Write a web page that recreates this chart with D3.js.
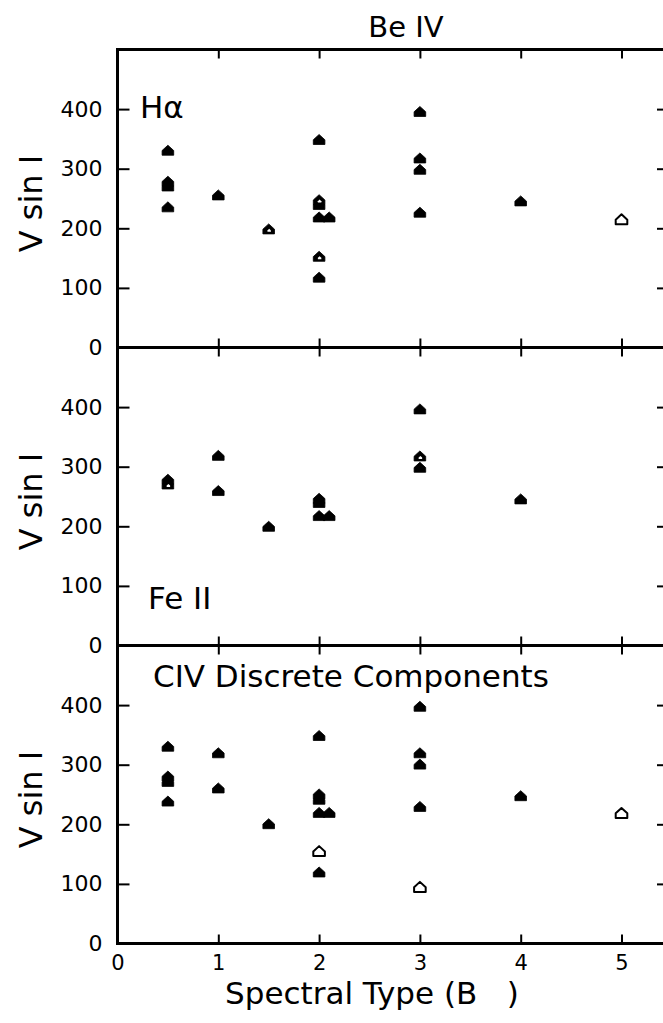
<!DOCTYPE html>
<html>
<head>
<meta charset="utf-8">
<script src="https://cdn.jsdelivr.net/npm/d3@7"></script>
<style>
  html, body { margin: 0; padding: 0; background: #fff; overflow: hidden; }
  svg { display: block; }
  text { font-family: "DejaVu Sans", sans-serif; fill: #000; }
</style>
</head>
<body>
<svg id="chart" width="663" height="1023"></svg>
<script>
// ---- data ----
const xTickValues = [0, 1, 2, 3, 4, 5];
const yTickValues = [0, 100, 200, 300, 400];
const panelNames = ["H\u03B1", "Fe II", "CIV Discrete Components"];
const chartTitle = "Be IV";
const xTitle = "Spectral Type (B\u00A0\u00A0\u00A0)";
const yTitle = "V sin I";

// [spectral subtype, v sin i, marker kind]  f = filled, o = open, m = open (heavily overprinted)
const haPoints = [
  [0.5, 330, "f"], [0.5, 278, "f"], [0.5, 270, "f"], [0.5, 235, "f"],
  [1, 255, "f"], [1.5, 198, "m"],
  [2, 348, "f"], [2, 239, "f"], [2, 247, "m"], [2, 218, "f"], [2.1, 218, "f"],
  [2, 152, "m"], [2, 117, "f"],
  [3, 395, "f"], [3, 317, "f"], [3, 298, "f"], [3, 226, "f"],
  [4, 245, "f"], [5, 214, "o"]
];
const fePoints = [
  [0.5, 278, "f"], [0.5, 270, "m"],
  [1, 318, "f"], [1, 259, "f"], [1.5, 199, "f"],
  [2, 246, "f"], [2, 239, "f"], [2, 217, "f"], [2.1, 217, "f"],
  [3, 396, "f"], [3, 298, "f"], [3, 317, "m"],
  [4, 245, "f"]
];
const civPoints = [
  [0.5, 330, "f"], [0.5, 280, "f"], [0.5, 271, "f"], [0.5, 238, "f"],
  [1, 319, "f"], [1, 260, "f"], [1.5, 200, "f"],
  [2, 348, "f"], [2, 250, "f"], [2, 241, "f"], [2, 219, "f"], [2.1, 219, "f"],
  [2, 154, "o"], [2, 119, "f"],
  [3, 397, "f"], [3, 319, "f"], [3, 300, "f"], [3, 229, "f"], [3, 94, "o"],
  [4, 247, "f"], [5, 218, "o"]
];
const panelData = [haPoints, fePoints, civPoints];

// ---- layout ----
const svg = d3.select("#chart");
const left = 117.5;
const unit = 100.8;
const right = 666;
const top0 = 49.5;
const panelH = 298;

const x = d3.scaleLinear().domain([0, (right - left) / unit]).range([left, right]);

const marker = "M0,-5.6 L5.8,-0.3 L5.8,4.4 L-5.8,4.4 L-5.8,-0.3 Z";

// title
svg.append("text").attr("x", 406).attr("y", 37).attr("text-anchor", "middle")
  .style("font-size", "29px").text(chartTitle);

panelData.forEach((pts, i) => {
  const t = top0 + i * panelH;
  const y = d3.scaleLinear().domain([0, 500]).range([t + panelH, t]);
  const g = svg.append("g");

  // left axis with labels
  const ax = g.append("g").attr("transform", `translate(${left},0)`)
    .call(d3.axisLeft(y).tickValues(yTickValues).tickSize(-12).tickPadding(15));
  ax.select(".domain").remove();
  ax.selectAll("line").attr("stroke", "#000").attr("stroke-width", 2);
  ax.selectAll("text").style("font-size", "22px").style("font-family", "DejaVu Sans");

  // right axis ticks
  const ar = g.append("g").attr("transform", `translate(${right},0)`)
    .call(d3.axisRight(y).tickValues(yTickValues.filter(v => v > 0)).tickSize(-9).tickFormat(""));
  ar.select(".domain").remove();
  ar.selectAll("line").attr("stroke", "#000").attr("stroke-width", 2);

  // top ticks
  const at = g.append("g").attr("transform", `translate(0,${t})`)
    .call(d3.axisTop(x).tickValues(xTickValues.filter(v => v > 0)).tickSize(-9).tickFormat(""));
  at.select(".domain").remove();
  at.selectAll("line").attr("stroke", "#000").attr("stroke-width", 2);

  // bottom ticks (labels only for last panel)
  const ab = g.append("g").attr("transform", `translate(0,${t + panelH})`)
    .call(d3.axisBottom(x).tickValues(i === 2 ? xTickValues : xTickValues.filter(v => v > 0))
      .tickSize(-9).tickPadding(12).tickFormat(i === 2 ? d3.format("d") : ""));
  ab.select(".domain").remove();
  ab.selectAll("line").attr("stroke", "#000").attr("stroke-width", 2);
  ab.selectAll("text").style("font-size", "21px").style("font-family", "DejaVu Sans");

  // frame
  g.append("rect").attr("x", left).attr("y", t).attr("width", right - left).attr("height", panelH)
    .attr("fill", "none").attr("stroke", "#000").attr("stroke-width", 3);

  // y title
  g.append("text")
    .attr("transform", `translate(42,${t + panelH / 2 + 5}) rotate(-90)`)
    .attr("text-anchor", "middle").style("font-size", "32px").text(yTitle);

  // points: filled first, then overprinted-open, then open
  const order = { f: 0, m: 1, o: 2 };
  const sorted = pts.slice().sort((a, b) => order[a[2]] - order[b[2]]);
  g.selectAll("path.pt").data(sorted).join("path")
    .attr("class", "pt")
    .attr("d", marker)
    .attr("transform", d => `translate(${x(d[0])},${y(d[1])})`)
    .attr("fill", d => d[2] === "o" ? "#fff" : "#000")
    .attr("stroke", "#000")
    .attr("stroke-linejoin", "round")
    .attr("stroke-width", d => d[2] === "o" ? 2 : 0.8);
  // small white interior of the overprinted open markers
  g.selectAll("path.hole").data(sorted.filter(d => d[2] === "m")).join("path")
    .attr("class", "hole")
    .attr("d", marker)
    .attr("transform", d => `translate(${x(d[0]) + 0.5},${y(d[1]) + 1}) scale(0.3)`)
    .attr("fill", "#fff");
});

// panel labels
svg.append("text").attr("x", 140).attr("y", 118).style("font-size", "31px").text(panelNames[0]);
svg.append("text").attr("x", 148).attr("y", 609).style("font-size", "31px").text(panelNames[1]);
svg.append("text").attr("x", 153).attr("y", 687).style("font-size", "31px").text(panelNames[2]);

// x title
svg.append("text").attr("x", 372).attr("y", 1004).attr("text-anchor", "middle")
  .style("font-size", "31px").text(xTitle);
</script>
</body>
</html>
